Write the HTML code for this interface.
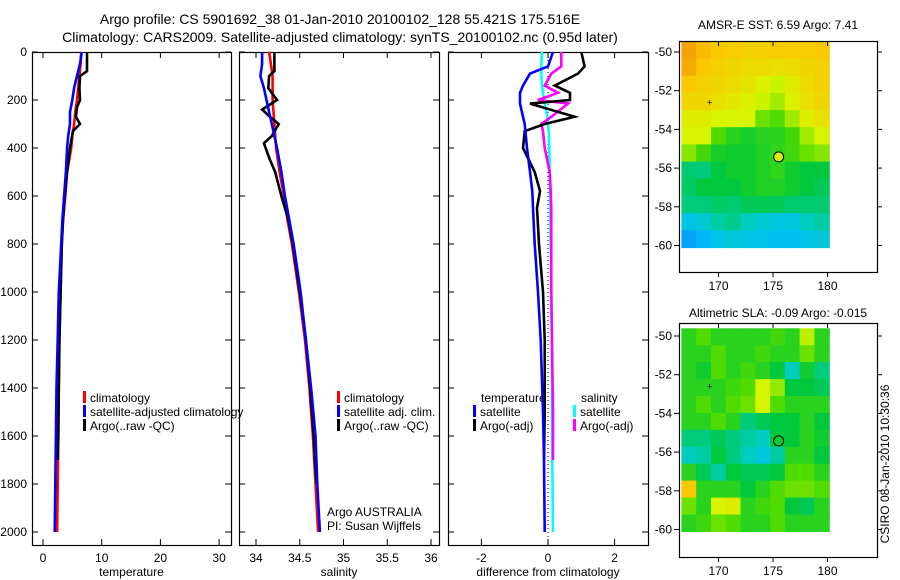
<!DOCTYPE html>
<html><head><meta charset="utf-8">
<style>
html,body{margin:0;padding:0;background:#fff;}
svg{display:block;font-family:"Liberation Sans",sans-serif;}
</style></head>
<body>
<svg id="fig" width="900" height="580" viewBox="0 0 900 580">
<text x="340" y="24" font-size="14" text-anchor="middle">Argo profile: CS 5901692_38 01-Jan-2010 20100102_128 55.421S 175.516E</text>
<text x="340" y="42" font-size="14" text-anchor="middle">Climatology: CARS2009. Satellite-adjusted climatology: synTS_20100102.nc (0.95d later)</text>
<text x="778" y="29" font-size="12" text-anchor="middle">AMSR-E SST: 6.59 Argo: 7.41</text>
<text x="778" y="317" font-size="12" text-anchor="middle">Altimetric SLA: -0.09 Argo: -0.015</text>
<text transform="translate(889,464) rotate(-90)" font-size="12" text-anchor="middle">CSIRO 08-Jan-2010 10:30:36</text>
</svg>
<script>
// ---- data ----
const depths = [0,50,100,150,200,250,300,350,400,500,600,700,800,900,1000,1200,1400,1600,1800,2000];
const tempClim = [6.5,6.4,6.2,6.0,5.8,5.5,5.3,5.0,4.8,4.1,3.8,3.4,3.2,3.1,3.0,2.8,2.7,2.6,2.5,2.4];
const tempSat  = [6.6,6.3,5.8,5.3,5.0,4.6,4.6,4.3,4.1,3.9,3.6,3.3,3.1,2.9,2.7,2.5,2.3,2.2,2.1,2.0];
const argoDepths = [0,50,80,100,150,200,230,270,300,330,400,500,600,700,800,1000,1200,1400,1600,1700];
const tempArgo = [7.5,7.5,7.5,6.3,6.2,6.3,5.8,5.6,6.3,5.1,4.6,4.1,3.7,3.4,3.2,3.0,2.8,2.7,2.6,2.5];
const salClim = [34.15,34.17,34.19,34.19,34.19,34.20,34.21,34.22,34.23,34.27,34.32,34.36,34.41,34.45,34.49,34.56,34.61,34.65,34.68,34.71];
const salSat  = [34.07,34.07,34.05,34.09,34.12,34.15,34.18,34.21,34.24,34.29,34.33,34.38,34.43,34.47,34.51,34.57,34.63,34.68,34.70,34.73];
const salArgoDepths = [0,80,100,150,200,240,270,300,350,380,450,500,600,700,800,1000,1200,1400,1600,1800];
const salArgo = [34.21,34.21,34.15,34.14,34.24,34.07,34.16,34.26,34.18,34.09,34.16,34.22,34.29,34.37,34.42,34.50,34.57,34.62,34.66,34.69];
const diffDepths = [0,60,90,140,170,200,215,270,300,330,400,500,580,650,800,1000,1200,1500,1700,2000];
const dTempSat  = [0.15,0.0,-0.54,-0.75,-0.84,-0.84,-0.84,-0.75,-0.7,-0.68,-0.63,-0.54,-0.47,-0.45,-0.4,-0.3,-0.22,-0.15,-0.12,-0.1];
const dTempArgo = [1.0,1.1,0.9,0.2,0.66,0.66,-0.54,0.8,-0.1,-0.7,-0.75,-0.4,-0.24,-0.33,-0.27,-0.15,-0.1,-0.1,-0.12,null];
const dSalSat   = [-0.18,-0.2,-0.2,-0.18,-0.15,-0.12,-0.1,-0.02,0.0,0.02,0.04,0.05,0.06,0.07,0.08,0.1,0.11,0.12,0.13,0.15];
const dSalArgo  = [0.4,0.4,0.1,-0.1,0.3,-0.3,0.6,0.1,-0.2,-0.15,-0.1,0.05,0.08,0.1,0.1,0.1,0.12,0.15,0.15,null];
const depthTicks = [0,200,400,600,800,1000,1200,1400,1600,1800,2000];
const tempTicks = [0,10,20,30];
const salTicks = [34,34.5,35,35.5,36];
const salTickLabels = ["34","34.5","35","35.5","36"];
const diffTicks = [-2,0,2];
const latTicks = [-50,-52,-54,-56,-58,-60];
const lonTicks = [170,175,180];
const sstGrid = [
[0.86,0.82,0.80,0.79,0.78,0.78,0.79,0.79,0.79,0.80],
[0.85,0.80,0.78,0.77,0.76,0.76,0.75,0.76,0.77,0.78],
[0.80,0.78,0.77,0.76,0.74,0.71,0.69,0.72,0.76,0.78],
[0.77,0.77,0.75,0.73,0.71,0.69,0.66,0.71,0.75,0.77],
[0.72,0.72,0.70,0.70,0.70,0.62,0.60,0.66,0.72,0.75],
[0.70,0.70,0.60,0.55,0.53,0.55,0.55,0.58,0.66,0.70],
[0.64,0.58,0.53,0.52,0.52,0.54,0.56,0.58,0.62,0.64],
[0.46,0.45,0.50,0.52,0.52,0.54,0.56,0.52,0.50,0.50],
[0.47,0.50,0.50,0.50,0.52,0.54,0.54,0.52,0.50,0.48],
[0.45,0.45,0.47,0.46,0.48,0.48,0.48,0.46,0.46,0.46],
[0.34,0.37,0.42,0.44,0.40,0.37,0.35,0.35,0.40,0.42],
[0.22,0.28,0.34,0.36,0.34,0.33,0.32,0.32,0.34,0.36]];
const slaGrid = [
[.55,.6,.55,.55,.55,.55,.58,.55,.68,.55],
[.55,.55,.6,.55,.55,.58,.55,.55,.62,.55],
[.55,.52,.6,.55,.58,.55,.5,.4,.52,.45],
[.55,.55,.55,.58,.6,.7,.65,.5,.5,.48],
[.55,.6,.55,.6,.62,.7,.6,.55,.55,.55],
[.55,.55,.6,.55,.45,.48,.5,.5,.55,.5],
[.45,.45,.48,.45,.42,.4,.5,.5,.55,.52],
[.4,.42,.5,.45,.4,.35,.42,.55,.55,.5],
[.55,.48,.42,.5,.48,.48,.5,.6,.6,.55],
[.8,.55,.55,.55,.5,.55,.6,.62,.62,.6],
[.62,.55,.7,.72,.55,.58,.6,.5,.48,.55],
[.55,.58,.62,.6,.55,.55,.6,.55,.55,.55]];
const argoLon = 175.516, argoLat = -55.421;
const sstArgoColor = 0.72, slaArgoColor = 0.52;

// ---- drawing ----
const NS = "http://www.w3.org/2000/svg";
const svg = document.getElementById('fig');
function mk(tag, attrs){const e=document.createElementNS(NS,tag);for(const k in attrs)e.setAttribute(k,attrs[k]);svg.appendChild(e);return e;}
const yD = d => 52 + d*0.24;
const xT = v => 43 + v*5.87;
const xS = v => 256 + (v-34)*87.5;
const xDf = v => 548 + v*33.3;

function frame(x0,x1,y0,y1,name){
  const r=mk('rect',{x:x0+0.5,y:y0+0.5,width:x1-x0,height:y1-y0,fill:'none',stroke:'#000','stroke-width':1.2});
  
  
}
const panels=[[32,231,xT,tempTicks,tempTicks.map(String),'temperature','temperature-panel'],
              [239,439,xS,salTicks,salTickLabels,'salinity','salinity-panel'],
              [448,648,xDf,diffTicks,diffTicks.map(String),'difference from climatology','difference-panel']];
panels.forEach(p=>{
  const [x0,x1,sx,ticks,labels,title,name]=p;
  frame(x0,x1,52,545,name+'-frame');
  depthTicks.forEach(d=>{
    const y=yD(d);
    mk('line',{x1:x0,y1:y,x2:x0+6,y2:y,stroke:'#000'});
    mk('line',{x1:x1,y1:y,x2:x1-6,y2:y,stroke:'#000'});
  });
  ticks.forEach((t,i)=>{
    const x=sx(t);
    mk('line',{x1:x,y1:545,x2:x,y2:539,stroke:'#000'});
    mk('line',{x1:x,y1:52,x2:x,y2:58,stroke:'#000'});
    const tl=mk('text',{x:x,y:562,'font-size':12,'text-anchor':'middle'});tl.textContent=labels[i];
    
    
  });
  const at=mk('text',{x:(x0+x1)/2,y:576,'font-size':12,'text-anchor':'middle'});at.textContent=title;
  
  
});
depthTicks.forEach(d=>{
  const t=mk('text',{x:27,y:yD(d)+4,'font-size':12,'text-anchor':'end'});t.textContent=String(d);
  
  
});
const zl=mk('line',{x1:xDf(0),y1:52,x2:xDf(0),y2:545,stroke:'#000','stroke-dasharray':'1,3'});



function series(ds,vals,sx,color,name){
  const pts=[];
  vals.forEach((v,i)=>{if(v!==null)pts.push(sx(v).toFixed(1)+','+yD(ds[i]).toFixed(1));});
  const pl=mk('polyline',{points:pts.join(' '),fill:'none',stroke:color,'stroke-width':2.6,'stroke-linejoin':'miter'});
  
  
}
series(depths,tempClim,xT,'#f00','temp-climatology-line');
series(argoDepths,tempArgo,xT,'#000','temp-argo-line');
series(depths,tempSat,xT,'#00f','temp-satellite-line');
series(depths,salClim,xS,'#f00','sal-climatology-line');
series(salArgoDepths,salArgo,xS,'#000','sal-argo-line');
series(depths,salSat,xS,'#00f','sal-satellite-line');
series(diffDepths,dSalSat,xDf,'#0ff','diff-sal-satellite-line');
series(diffDepths,dSalArgo,xDf,'#f0f','diff-sal-argo-line');
series(diffDepths,dTempArgo,xDf,'#000','diff-temp-argo-line');
series(diffDepths,dTempSat,xDf,'#00f','diff-temp-satellite-line');

function legend(x,y,color,label){
  if(color){const b=mk('rect',{x:x,y:y-11,width:3,height:12,fill:color});
    
    }
  const t=mk('text',{x:x+7,y:y,'font-size':12});t.textContent=label;
  
  
}
legend(83,402,'#f00','climatology');legend(83,416,'#00f','satellite-adjusted climatology');legend(83,430,'#000','Argo(..raw -QC)');
legend(337,402,'#f00','climatology');legend(337,416,'#00f','satellite adj. clim.');legend(337,430,'#000','Argo(..raw -QC)');
legend(474,402,null,'temperature');legend(473,416,'#00f','satellite');legend(473,430,'#000','Argo(-adj)');
legend(574,402,null,'salinity');legend(573,416,'#0ff','satellite');legend(573,430,'#f0f','Argo(-adj)');
const ag=mk('text',{x:327,y:516,'font-size':12});ag.textContent='Argo AUSTRALIA';


const pi=mk('text',{x:327,y:530,'font-size':12});pi.textContent='PI: Susan Wijffels';



function cmap(v){
  const stops=[[0,[0,90,230]],[0.3,[0,190,255]],[0.4,[0,205,190]],[0.5,[0,200,60]],[0.6,[80,220,0]],[0.7,[215,245,0]],[0.8,[250,200,0]],[0.9,[240,140,0]],[1,[220,60,0]]];
  for(let i=1;i<stops.length;i++){if(v<=stops[i][0]){const a=stops[i-1],b=stops[i],t=(v-a[0])/(b[0]-a[0]);
    const c=a[1].map((q,k)=>Math.round(q+(b[1][k]-q)*t));return 'rgb('+c.join(',')+')';}}
  return 'rgb(220,60,0)';
}
function drawMap(grid,top,bottom,latTop,argoC,name){
  const lonL=166.6,lonR=180.15,latBot=-60.1;
  const xLon=lon=>773+(lon-175)*10.9;
  const yLat=lat=>top+(-50-lat)*19.35+ (top===41?11:13);
  const rows=grid.length, cols=grid[0].length;
  const x0=xLon(lonL), x1=xLon(lonR), y0=yLat(latTop), y1=yLat(latBot);
  const cw=(x1-x0)/cols, ch=(y1-y0)/rows;
  grid.forEach((row,r)=>row.forEach((v,c)=>{
    const cell=mk('rect',{x:(x0+c*cw).toFixed(1),y:(y0+r*ch).toFixed(1),width:(cw+0.6).toFixed(1),height:(ch+0.6).toFixed(1),fill:cmap(v)});
    
    
  }));
  frame(679,877,top,bottom,name+'-frame');
  latTicks.forEach(l=>{const y=yLat(l);
    mk('line',{x1:679,y1:y,x2:674,y2:y,stroke:'#000'});mk('line',{x1:877,y1:y,x2:882,y2:y,stroke:'#000'});
    const t=mk('text',{x:672,y:y+4,'font-size':12,'text-anchor':'end'});t.textContent=String(l);
    
    });
  lonTicks.forEach(l=>{const x=xLon(l);
    mk('line',{x1:x,y1:bottom,x2:x,y2:bottom+5,stroke:'#000'});mk('line',{x1:x,y1:top,x2:x,y2:top+5,stroke:'#000'});
    const t=mk('text',{x:x,y:bottom+18,'font-size':12,'text-anchor':'middle'});t.textContent=String(l);
    
    });
  const c=mk('circle',{cx:xLon(argoLon),cy:yLat(argoLat),r:5,fill:cmap(argoC),stroke:'#000','stroke-width':1});
  
  
  const d=mk('text',{x:xLon(169.2),y:yLat(-52.6)+3,'font-size':9,'text-anchor':'middle'});d.textContent='+';
  
  
}
drawMap(sstGrid,41,272,-49.45,sstArgoColor,'sst-map');
drawMap(slaGrid,323,557,-49.6,slaArgoColor,'sla-map');
</script>
</body></html>
